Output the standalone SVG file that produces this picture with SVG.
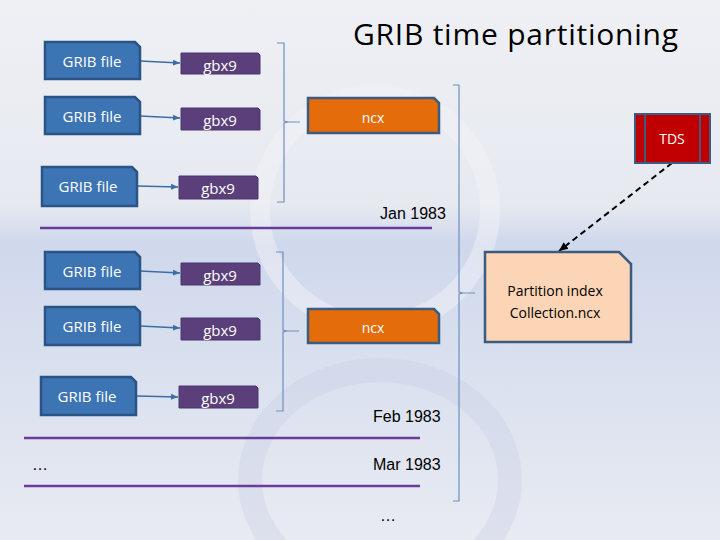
<svg xmlns="http://www.w3.org/2000/svg" width="720" height="540" viewBox="0 0 720 540">
<defs>
<linearGradient id="bg" x1="0" y1="0" x2="0" y2="1">
<stop offset="0" stop-color="#eef0f4"/><stop offset="0.38" stop-color="#e6e9f0"/><stop offset="0.45" stop-color="#cfd8ec"/><stop offset="1" stop-color="#e8ebf2"/>
</linearGradient>
<marker id="ah" markerWidth="8" markerHeight="8" refX="7" refY="4" orient="auto" markerUnits="userSpaceOnUse"><path d="M0,1 L7,4 L0,7 Z" fill="#3b6ea5"/></marker>
<marker id="ad" markerWidth="10" markerHeight="10" refX="9" refY="5" orient="auto" markerUnits="userSpaceOnUse"><path d="M0,1 L9,5 L0,9 Z" fill="#000"/></marker>
<style>
.grib{fill:#3d75b4;stroke:#2a5386;stroke-width:2.5}
.gbx{fill:#5a3f7a;stroke:#4a3670;stroke-width:1}
.ncx{fill:#e46c0a;stroke:#3d5a80;stroke-width:2.5}
.wt{font-family:"Open Sans","Liberation Sans",sans-serif;fill:#fff;text-anchor:middle}
.bt{font-family:"Liberation Sans",Arial,sans-serif;fill:#000;font-size:16px}
.br{fill:none;stroke:#6f8fc0;stroke-width:1.2}
.pl{stroke:#6a3d9a;stroke-width:2.5}
.c{stroke:#3b6ea5;stroke-width:1.5;fill:none}
</style>
</defs>
<rect width="720" height="540" fill="url(#bg)"/>
<circle cx="375" cy="210" r="115" fill="none" stroke="#f3f3f8" stroke-width="20" opacity="0.45"/>
<ellipse cx="380" cy="480" rx="130" ry="110" fill="none" stroke="#c9cfe6" stroke-width="24" opacity="0.35"/>
<text x="353" y="45" font-family="'Open Sans','Liberation Sans',sans-serif" font-size="30" fill="#000" textLength="325">GRIB time partitioning</text>

<g id="connectors">
<line class="c" x1="140" y1="61" x2="180" y2="63" marker-end="url(#ah)"/>
<line class="c" x1="140" y1="116" x2="180" y2="118" marker-end="url(#ah)"/>
<line class="c" x1="137" y1="186" x2="178" y2="187" marker-end="url(#ah)"/>
<line class="c" x1="140" y1="271" x2="180" y2="273" marker-end="url(#ah)"/>
<line class="c" x1="140" y1="326" x2="180" y2="328" marker-end="url(#ah)"/>
<line class="c" x1="137" y1="396" x2="178" y2="397" marker-end="url(#ah)"/>
<path class="br" d="M277,43 h7 v78 l4,1 h12 M288,122 l-4,1 v79 h-7"/>
<path class="br" d="M276,252 h7 v78 l4,1 h12 M287,331 l-4,1 v79 h-7"/>
<path class="br" d="M453,85 h6 v207 l4,1 h12 M463,293 l-4,1 v207 h-6"/>
<line x1="672" y1="163" x2="559" y2="251" stroke="#000" stroke-width="2" stroke-dasharray="6,4" marker-end="url(#ad)"/>
<line class="pl" x1="40" y1="228" x2="432" y2="228"/>
<line class="pl" x1="24" y1="438" x2="420" y2="438"/>
<line class="pl" x1="24" y1="486" x2="420" y2="486"/>
</g>

<g id="grib1"><path class="grib" d="M45,42 H135 L140,47 V79 H45 Z"/><text class="wt" x="92" y="67" font-size="15">GRIB file</text></g>
<g id="grib2"><path class="grib" d="M45,97 H135 L140,102 V134 H45 Z"/><text class="wt" x="92" y="122" font-size="15">GRIB file</text></g>
<g id="grib3"><path class="grib" d="M42,167 H132 L137,172 V206 H42 Z"/><text class="wt" x="88" y="192" font-size="15">GRIB file</text></g>
<g id="gbx1"><path class="gbx" d="M181,53 H258 L260,55 V74 H181 Z"/><text class="wt" x="220" y="71" font-size="15">gbx9</text></g>
<g id="gbx2"><path class="gbx" d="M181,108 H258 L260,110 V130 H181 Z"/><text class="wt" x="220" y="126" font-size="15">gbx9</text></g>
<g id="gbx3"><path class="gbx" d="M179,176 H256 L258,178 V199 H179 Z"/><text class="wt" x="218" y="194" font-size="15">gbx9</text></g>
<g id="ncx1"><path class="ncx" d="M308,98 H434 L439,103 V133 H308 Z"/><text class="wt" x="373" y="123" font-size="14">ncx</text></g>

<g id="grib4"><path class="grib" d="M45,252 H135 L140,257 V289 H45 Z"/><text class="wt" x="92" y="277" font-size="15">GRIB file</text></g>
<g id="grib5"><path class="grib" d="M45,307 H135 L140,312 V345 H45 Z"/><text class="wt" x="92" y="332" font-size="15">GRIB file</text></g>
<g id="grib6"><path class="grib" d="M41,377 H131 L136,382 V415 H41 Z"/><text class="wt" x="87" y="402" font-size="15">GRIB file</text></g>
<g id="gbx4"><path class="gbx" d="M181,263 H258 L260,265 V285 H181 Z"/><text class="wt" x="220" y="281" font-size="15">gbx9</text></g>
<g id="gbx5"><path class="gbx" d="M181,318 H258 L260,320 V340 H181 Z"/><text class="wt" x="220" y="336" font-size="15">gbx9</text></g>
<g id="gbx6"><path class="gbx" d="M179,386 H256 L258,388 V408 H179 Z"/><text class="wt" x="218" y="404" font-size="15">gbx9</text></g>
<g id="ncx2"><path class="ncx" d="M308,309 H434 L439,314 V343 H308 Z"/><text class="wt" x="373" y="333" font-size="14">ncx</text></g>

<g id="partition"><path d="M485,252 H619 L631,264 V342 H485 Z" fill="#fbd5b5" stroke="#3d5a80" stroke-width="2.5"/>
<text x="555" y="296" font-family="'Open Sans','Liberation Sans',sans-serif" font-size="14" text-anchor="middle" fill="#000">Partition index</text>
<text x="555" y="318" font-family="'Open Sans','Liberation Sans',sans-serif" font-size="14" text-anchor="middle" fill="#000">Collection.ncx</text></g>
<g id="tds"><rect x="635" y="114" width="75" height="49" fill="#c00000" stroke="#3d5a80" stroke-width="2"/>
<line x1="645" y1="114" x2="645" y2="163" stroke="#3d5a80" stroke-width="2"/><line x1="700" y1="114" x2="700" y2="163" stroke="#3d5a80" stroke-width="2"/>
<text class="wt" x="672" y="144" font-size="14">TDS</text></g>

<text class="bt" x="380" y="219">Jan 1983</text>
<text class="bt" x="373" y="422">Feb 1983</text>
<text class="bt" x="373" y="470">Mar 1983</text>
<text class="bt" x="32" y="470">…</text>
<text class="bt" x="380" y="521">…</text>
</svg>
